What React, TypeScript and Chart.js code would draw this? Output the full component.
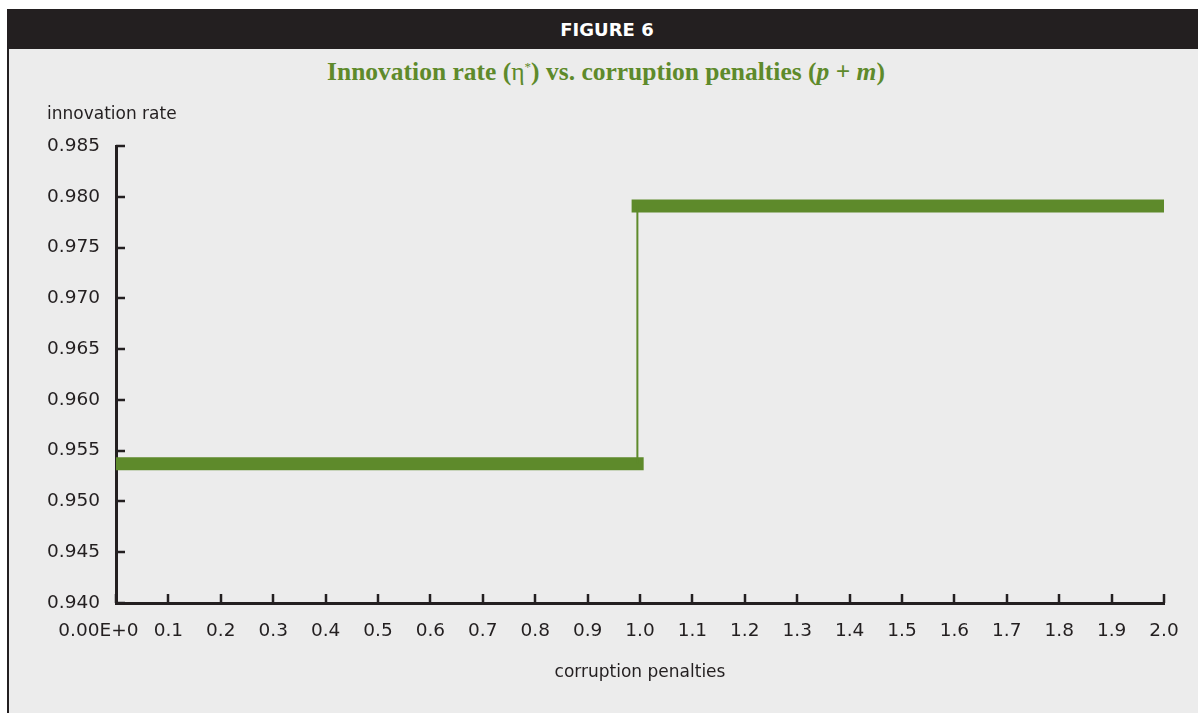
import React, { useEffect, useRef } from "react";
import { Chart, registerables } from "chart.js";

Chart.register(...registerables);

// Step function: innovation rate vs. corruption penalties
const lowSegmentX = [0, 1.007];
const highSegmentX = [0.984, 2.0];
const jumpX = 0.995;
const lowRate = 0.9537;
const highRate = 0.9791;

// Axis ranges and ticks
const xMin = 0;
const xMax = 2.0;
const xStep = 0.1;
const yMin = 0.94;
const yMax = 0.985;
const yStep = 0.005;
const xZeroLabel = "0.00E+0";

const yAxisTitle = "innovation rate";
const xAxisTitle = "corruption penalties";

const GREEN = "#5e8a2b";
const INK = "#231f20";
const LABEL_FONT = { family: "'DejaVu Sans', sans-serif", size: 17 };
const TICK_FONT = { family: "'DejaVu Sans', sans-serif", size: 18.5 };

// Inward tick marks and the horizontal y-axis caption
const innerTicks = {
  id: "innerTicks",
  afterDraw(chart: any) {
    const { ctx, chartArea, scales } = chart;
    const xs = scales.x;
    const ys = scales.y;
    ctx.save();
    ctx.strokeStyle = INK;
    ctx.lineWidth = 2.5;
    ctx.beginPath();
    xs.ticks.forEach((t: any) => {
      const px = Math.round(xs.getPixelForValue(t.value));
      ctx.moveTo(px, chartArea.bottom);
      ctx.lineTo(px, chartArea.bottom - 9);
    });
    ys.ticks.forEach((t: any) => {
      const py = Math.round(ys.getPixelForValue(t.value));
      ctx.moveTo(chartArea.left, py);
      ctx.lineTo(chartArea.left + 9, py);
    });
    ctx.stroke();

    ctx.fillStyle = INK;
    ctx.font = `${LABEL_FONT.size}px ${LABEL_FONT.family}`;
    ctx.textAlign = "left";
    ctx.textBaseline = "middle";
    ctx.fillText(yAxisTitle, chartArea.left - 69, chartArea.top - 31);
    ctx.restore();
  },
};

function StepChart() {
  const canvasRef = useRef<HTMLCanvasElement | null>(null);

  useEffect(() => {
    const canvas = canvasRef.current;
    if (!canvas) return;

    const seg = (xs: number[], y: number) => xs.map((x) => ({ x, y }));

    const chart = new Chart(canvas, {
      type: "line",
      data: {
        datasets: [
          {
            data: [
              { x: jumpX, y: lowRate },
              { x: jumpX, y: highRate },
            ],
            borderColor: GREEN,
            borderWidth: 2,
            pointRadius: 0,
            clip: false as any,
          },
          {
            data: seg(lowSegmentX, lowRate),
            borderColor: GREEN,
            borderWidth: 13,
            borderCapStyle: "butt",
            pointRadius: 0,
            clip: false as any,
          },
          {
            data: seg(highSegmentX, highRate),
            borderColor: GREEN,
            borderWidth: 13,
            borderCapStyle: "butt",
            pointRadius: 0,
            clip: false as any,
          },
        ],
      },
      options: {
        animation: false,
        responsive: false,
        maintainAspectRatio: false,
        events: [],
        layout: { padding: { top: 146, right: 34, bottom: 0, left: 0 } },
        plugins: {
          legend: { display: false },
          tooltip: { enabled: false },
          title: { display: false },
        },
        scales: {
          x: {
            type: "linear",
            min: xMin,
            max: xMax,
            afterFit: (s: any) => {
              s.height = 110;
            },
            border: { display: true, color: INK, width: 3 },
            grid: { display: false, drawTicks: false },
            ticks: {
              stepSize: xStep,
              autoSkip: false,
              maxRotation: 0,
              minRotation: 0,
              padding: 17,
              color: INK,
              font: TICK_FONT,
              callback: (v: any) =>
                Math.abs(Number(v)) < 1e-9 ? xZeroLabel + "      " : Number(v).toFixed(1),
            },
            title: {
              display: true,
              text: xAxisTitle,
              color: INK,
              font: LABEL_FONT,
              padding: { top: 4, bottom: 30 },
            },
          },
          y: {
            type: "linear",
            min: yMin,
            max: yMax,
            afterFit: (s: any) => {
              s.width = 116;
            },
            border: { display: true, color: INK, width: 3 },
            grid: { display: false, drawTicks: false },
            ticks: {
              stepSize: yStep,
              autoSkip: false,
              padding: 16,
              color: INK,
              font: TICK_FONT,
              callback: (v: any) => Number(v).toFixed(3),
            },
          },
        },
      },
      plugins: [innerTicks],
    });

    return () => chart.destroy();
  }, []);

  return (
    <canvas
      ref={canvasRef}
      width={1198}
      height={713}
      style={{ position: "absolute", left: 0, top: 0, width: 1198, height: 713 }}
    />
  );
}

export default function App() {
  return (
    <div
      style={{
        position: "relative",
        width: 1198,
        height: 713,
        overflow: "hidden",
        background: "#ffffff",
      }}
    >
      <style>{"html,body{margin:0;padding:0;background:#fff;}"}</style>
      <div
        style={{
          position: "absolute",
          left: 7,
          top: 9,
          width: 1191,
          height: 704,
          background: "#ececec",
          borderLeft: `2px solid ${INK}`,
          boxSizing: "border-box",
        }}
      />
      <div
        style={{
          position: "absolute",
          left: 7,
          top: 9,
          width: 1191,
          height: 40,
          background: INK,
          color: "#ffffff",
          display: "flex",
          alignItems: "center",
          justifyContent: "center",
          fontFamily: "'DejaVu Sans', sans-serif",
          fontWeight: 700,
          fontSize: 18,
          paddingLeft: 9,
          paddingTop: 1,
          boxSizing: "border-box",
        }}
      >
        FIGURE 6
      </div>
      <div
        style={{
          position: "absolute",
          left: 10,
          top: 51,
          width: 1192,
          textAlign: "center",
          fontFamily: "'Liberation Serif', 'Times New Roman', serif",
          fontWeight: 700,
          fontSize: 25.5,
          lineHeight: "32px",
          color: GREEN,
          whiteSpace: "nowrap",
        }}
      >
        Innovation rate (<span style={{ fontWeight: 400 }}>η</span>
        <sup style={{ fontSize: 13, fontWeight: 400, verticalAlign: 9 }}>*</sup>) vs. corruption
        penalties (<i>p</i> + <i>m</i>)
      </div>
      <StepChart />
    </div>
  );
}
